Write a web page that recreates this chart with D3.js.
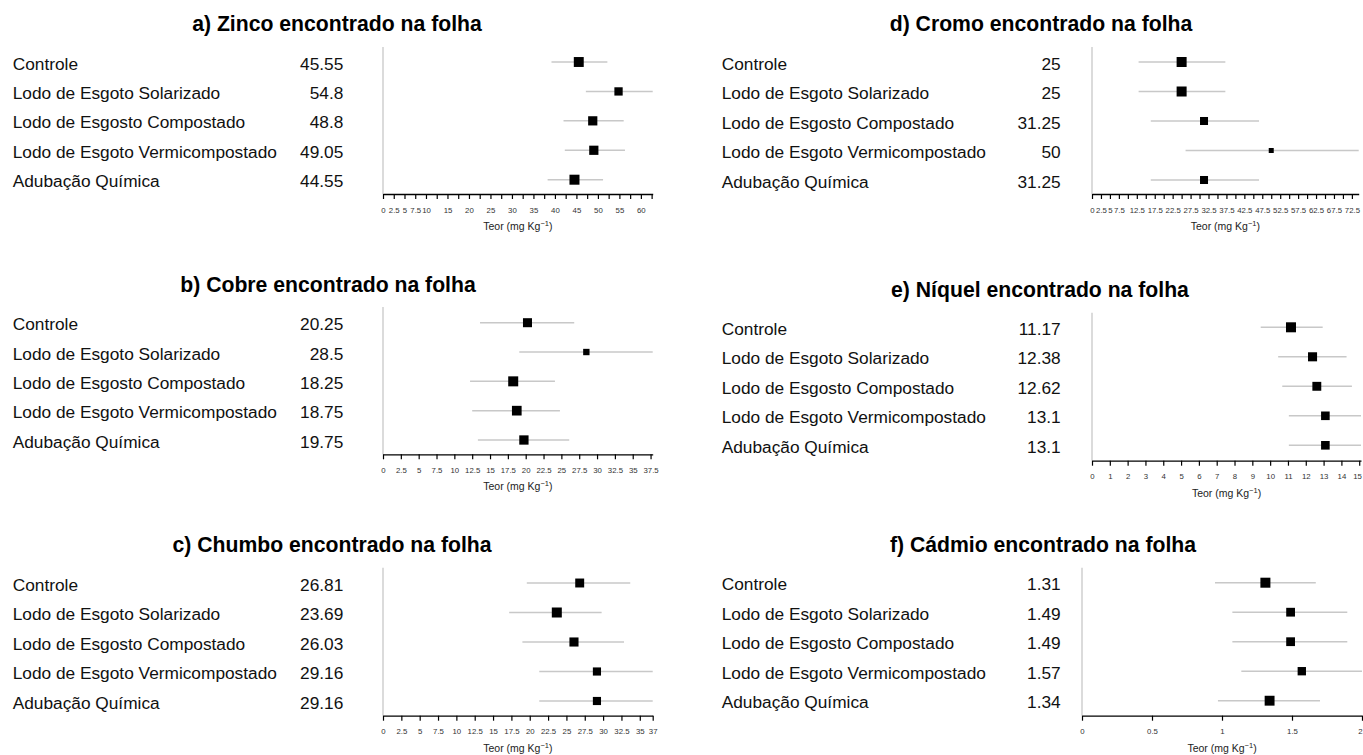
<!DOCTYPE html>
<html>
<head>
<meta charset="utf-8">
<script src="https://cdn.jsdelivr.net/npm/d3@7"></script>
<style>
  body { margin: 0; background: #fff; }
  svg { font-family: "Liberation Sans", Arial, sans-serif; }
</style>
</head>
<body>
<svg id="chart" width="1363" height="755"></svg>
<script>
var svg = d3.select('#chart');
var W = +svg.attr('width');

// treatments (same order in every panel)
var treatments = ['Controle', 'Lodo de Esgoto Solarizado', 'Lodo de Esgosto Compostado',
  'Lodo de Esgoto Vermicompostado', 'Adubação Química'];

// a) zinco
var zincMean  = [45.55, 54.8, 48.8, 49.05, 44.55];
var zincLower = [39.2, 47.2, 42.0, 42.3, 38.3];
var zincUpper = [52.2, 62.75, 56.0, 56.3, 51.2];
var zincTicks = d3.range(0, 63, 2.5);
var zincTickLabels = [0, 2.5, 5, 7.5, 10, 15, 20, 25, 30, 35, 40, 45, 50, 55, 60];

// b) cobre
var cobreMean  = [20.25, 28.5, 18.25, 18.75, 19.75];
var cobreLower = [13.6, 19.1, 12.2, 12.5, 13.3];
var cobreUpper = [26.8, 37.8, 24.1, 24.8, 26.1];
var cobreTicks = d3.range(0, 38, 2.5);
var cobreTickLabels = cobreTicks;

// c) chumbo
var chumboMean  = [26.81, 23.69, 26.03, 29.16, 29.16];
var chumboLower = [19.6, 17.2, 19.0, 21.3, 21.3];
var chumboUpper = [33.7, 29.8, 32.85, 36.76, 36.76];
var chumboTicks = d3.range(0, 36, 2.5).concat([37]);
var chumboTickLabels = chumboTicks;

// d) cromo
var cromoMean  = [25, 25, 31.25, 50, 31.25];
var cromoLower = [13.0, 13.0, 16.4, 26.1, 16.4];
var cromoUpper = [37.2, 37.2, 46.6, 74.4, 46.6];
var cromoTicks = d3.range(0, 74, 2.5);
var cromoTickLabels = [0, 2.5, 5, 7.5, 12.5, 17.5, 22.5, 27.5, 32.5, 37.5, 42.5, 47.5, 52.5, 57.5, 62.5, 67.5, 72.5];

// e) niquel
var niquelMean  = [11.17, 12.38, 12.62, 13.1, 13.1];
var niquelLower = [9.47, 10.45, 10.68, 11.05, 11.05];
var niquelUpper = [12.95, 14.29, 14.59, 15.1, 15.1];
var niquelTicks = d3.range(0, 16, 1);
var niquelTickLabels = niquelTicks;

// f) cadmio
var cadmioMean  = [1.31, 1.49, 1.49, 1.57, 1.34];
var cadmioLower = [0.95, 1.074, 1.074, 1.138, 0.971];
var cadmioUpper = [1.67, 1.895, 1.895, 2.0, 1.70];
var cadmioTicks = [0, 0.5, 1, 1.5, 2];
var cadmioTickLabels = cadmioTicks;

var panels = [
  {title: 'a) Zinco encontrado na folha', mean: zincMean, lower: zincLower, upper: zincUpper,
   ticks: zincTicks, tickLabels: zincTickLabels,
   x0: 383, x1: 652.7, rowTop: 62, rowBottom: 179.7, axisY: 194, lineTop: 47,
   labelX: 12.7, valueX: 343.3, titleX: 337, titleY: 31},
  {title: 'b) Cobre encontrado na folha', mean: cobreMean, lower: cobreLower, upper: cobreUpper,
   ticks: cobreTicks, tickLabels: cobreTickLabels,
   x0: 383, x1: 652.7, rowTop: 322.7, rowBottom: 440, axisY: 454.3, lineTop: 307,
   labelX: 12.7, valueX: 343.3, titleX: 328, titleY: 292},
  {title: 'c) Chumbo encontrado na folha', mean: chumboMean, lower: chumboLower, upper: chumboUpper,
   ticks: chumboTicks, tickLabels: chumboTickLabels,
   x0: 383, x1: 652.7, rowTop: 583, rowBottom: 701, axisY: 715.7, lineTop: 567.7,
   labelX: 12.7, valueX: 343.3, titleX: 332, titleY: 552},
  {title: 'd) Cromo encontrado na folha', mean: cromoMean, lower: cromoLower, upper: cromoUpper,
   ticks: cromoTicks, tickLabels: cromoTickLabels,
   x0: 1092, x1: 1358.7, rowTop: 62, rowBottom: 180, axisY: 194, lineTop: 47,
   labelX: 721.7, valueX: 1060.7, titleX: 1041, titleY: 31},
  {title: 'e) Níquel encontrado na folha', mean: niquelMean, lower: niquelLower, upper: niquelUpper,
   ticks: niquelTicks, tickLabels: niquelTickLabels,
   x0: 1092, x1: 1361, rowTop: 327.3, rowBottom: 445.3, axisY: 460.7, lineTop: 312.7,
   labelX: 721.7, valueX: 1060.7, titleX: 1040, titleY: 297},
  {title: 'f) Cádmio encontrado na folha', mean: cadmioMean, lower: cadmioLower, upper: cadmioUpper,
   ticks: cadmioTicks, tickLabels: cadmioTickLabels,
   x0: 1082, x1: 1362, rowTop: 582.7, rowBottom: 700.7, axisY: 715.7, lineTop: 567.7,
   labelX: 721.7, valueX: 1060.7, titleX: 1043, titleY: 552}
];

var maxBox = 10;

panels.forEach(function(p) {
  var g = svg.append('g');
  var rows = treatments.map(function(t, i) {
    return {name: t, mean: p.mean[i], lo: p.lower[i], hi: p.upper[i]};
  });

  var x = d3.scaleLinear().domain([0, d3.max(p.upper)]).range([p.x0, p.x1]).clamp(true);
  var y = d3.scalePoint().domain(treatments).range([p.rowTop, p.rowBottom]);
  var minW = d3.min(rows, d => d.hi - d.lo);
  var box = d => maxBox * minW / (d.hi - d.lo);

  g.append('text')
    .attr('x', p.titleX).attr('y', p.titleY)
    .attr('text-anchor', 'middle')
    .attr('font-size', 21.2).attr('font-weight', 'bold').attr('fill', '#000')
    .text(p.title);

  g.selectAll('text.lab').data(rows).enter().append('text')
    .attr('class', 'lab')
    .attr('x', p.labelX).attr('y', d => y(d.name) + 7.5)
    .attr('font-size', 17.3).attr('fill', '#111')
    .text(d => d.name);

  g.selectAll('text.val').data(rows).enter().append('text')
    .attr('class', 'val')
    .attr('x', p.valueX).attr('y', d => y(d.name) + 7.5)
    .attr('text-anchor', 'end')
    .attr('font-size', 17.3).attr('fill', '#111')
    .text(d => String(d.mean));

  // zero line
  g.append('line')
    .attr('x1', x(0)).attr('x2', x(0))
    .attr('y1', p.lineTop).attr('y2', p.axisY)
    .attr('stroke', '#cfcfcf').attr('stroke-width', 1.5);

  g.selectAll('line.ci').data(rows).enter().append('line')
    .attr('class', 'ci')
    .attr('x1', d => x(d.lo)).attr('x2', d => x(d.hi))
    .attr('y1', d => y(d.name)).attr('y2', d => y(d.name))
    .attr('stroke', '#c8c8c8').attr('stroke-width', 1.5);

  g.selectAll('rect.box').data(rows).enter().append('rect')
    .attr('class', 'box')
    .attr('width', box).attr('height', box)
    .attr('x', d => x(d.mean) - box(d) / 2)
    .attr('y', d => y(d.name) - box(d) / 2)
    .attr('fill', '#000');

  var axis = d3.axisBottom(x)
    .tickValues(p.ticks)
    .tickSize(5).tickSizeOuter(0).tickPadding(8)
    .tickFormat(d => p.tickLabels.indexOf(d) >= 0 ? String(d) : '');

  var ax = g.append('g')
    .attr('transform', 'translate(0,' + p.axisY + ')')
    .call(axis);
  ax.select('.domain').attr('stroke', '#000').attr('stroke-width', 1.3);
  ax.selectAll('.tick line').attr('stroke', '#000').attr('stroke-width', 1.2);
  ax.selectAll('.tick text')
    .attr('font-size', 7.8).attr('fill', '#333')
    .attr('font-family', '"Liberation Sans", Arial, sans-serif')
    .each(function(d) {
      // keep the last label inside the page
      var bb = this.getBBox();
      var right = x(d) + bb.x + bb.width;
      if (right > W - 1) d3.select(this).attr('dx', (W - 1 - right) + 'px');
    });

  var t = g.append('text')
    .attr('x', (p.x0 + p.x1) / 2).attr('y', p.axisY + 36)
    .attr('text-anchor', 'middle')
    .attr('font-size', 10.5).attr('fill', '#222');
  t.append('tspan').text('Teor (mg Kg');
  t.append('tspan').attr('font-size', 7.5).attr('dy', -4).text('−1');
  t.append('tspan').attr('dy', 4).text(')');
});
</script>
</body>
</html>
